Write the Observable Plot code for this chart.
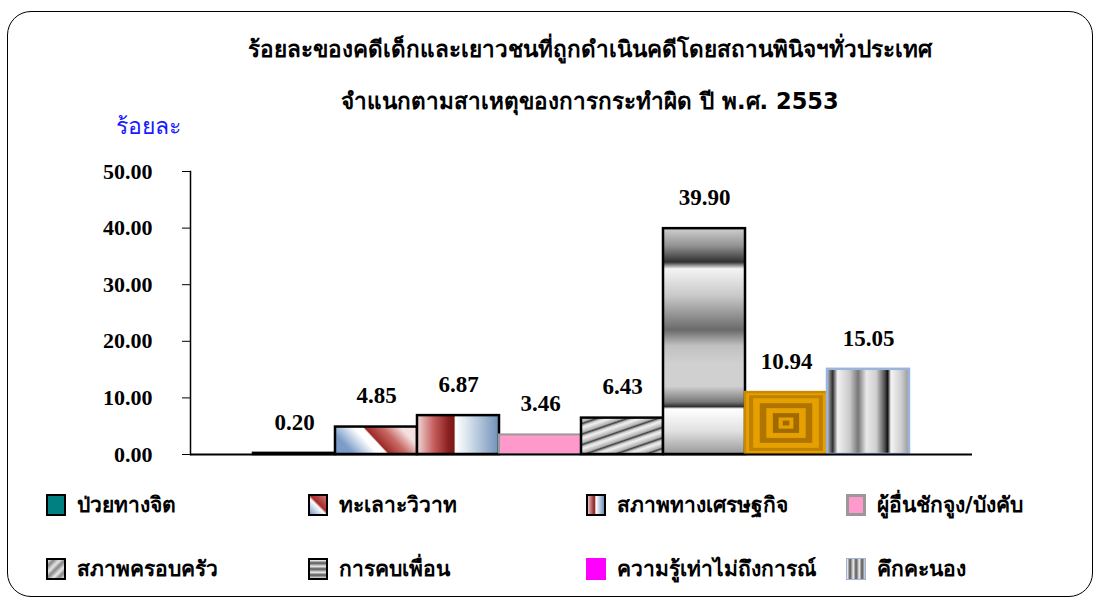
<!DOCTYPE html>
<html>
<head>
<meta charset="utf-8">
<script src="https://cdn.jsdelivr.net/npm/d3@7"></script>
<script src="https://cdn.jsdelivr.net/npm/@observablehq/plot@0.6"></script>
<style>
  html, body { margin: 0; padding: 0; background: #fff; }
  #wrap { position: relative; width: 1101px; height: 599px; overflow: hidden; font-family: "DejaVu Sans", "Noto Sans", sans-serif; }
  #border { position: absolute; left: 7px; top: 11px; width: 1084px; height: 584px; border: 1.5px solid #000; border-radius: 24px; }
  .title { position: absolute; left: 0; width: 1180px; text-align: center; font-weight: bold; font-size: 22.5px; color: #000; white-space: nowrap; }
  #ylab { position: absolute; left: 116px; top: 108px; color: #1a1aff; font-size: 23px; white-space: nowrap; }
  #chart { position: absolute; left: 0; top: 140px; }
  .leg { position: absolute; display: flex; align-items: center; font-size: 21px; font-weight: bold; white-space: nowrap; }
  .sw { width: 20px; height: 22px; box-sizing: border-box; margin-right: 11px; }
</style>
</head>
<body>
<div id="wrap">
  <div id="border"></div>
  <div class="title" id="t1" style="top:31px"></div>
  <div class="title" id="t2" style="top:83px"></div>
  <div id="ylab"></div>
  <div id="chart"></div>
  <div id="legend"></div>
</div>
<script>
// ---- data ----
const title1 = "ร้อยละของคดีเด็กและเยาวชนที่ถูกดำเนินคดีโดยสถานพินิจฯทั่วประเทศ";
const title2 = "จำแนกตามสาเหตุของการกระทำผิด ปี พ.ศ. 2553";
const yLabel = "ร้อยละ";
const categories = ["ป่วยทางจิต", "ทะเลาะวิวาท", "สภาพทางเศรษฐกิจ", "ผู้อื่นชักจูง/บังคับ", "สภาพครอบครัว", "การคบเพื่อน", "ความรู้เท่าไม่ถึงการณ์", "คึกคะนอง"];
const values = [0.20, 4.85, 6.87, 3.46, 6.43, 39.90, 10.94, 15.05];
const yTicks = [0, 10, 20, 30, 40, 50];

// ---- styles ----
const barFills = ["#008080", "url(#g2)", "url(#g3)", "#ff99cc", "url(#g5)", "url(#g6)", "url(#p7)", "url(#g8)"];
const barStrokes = ["#000", "#000", "#000", "#9a9a9a", "#000", "#000", "#c98a00", "#9ab4dc"];
const legendSwatch = [
  "background:#008080;border:2px solid #000",
  "background:linear-gradient(45deg,#7b9cc9 0%,#ffffff 45%,#a52a2a 55%,#d07070 100%);border:2px solid #000",
  "background:linear-gradient(90deg,#e8c0c0,#8b2020 40%,#ffffff 50%,#7090b8);border:2px solid #000",
  "background:#ff99cc;border:3px solid #999",
  "background:repeating-linear-gradient(135deg,#eee 0px,#888 4px,#ddd 8px);border:2px solid #000",
  "background:repeating-linear-gradient(180deg,#fff 0px,#555 3px,#ddd 6px);border:2px solid #000",
  "background:#ff00ff",
  "background:repeating-linear-gradient(90deg,#fff 0px,#555 3px,#ddd 6px);border:1.5px solid #9ab4dc"
];
const legendPos = [[46,491],[308,491],[586,491],[846,491],[46,555],[308,555],[586,555],[846,555]];

document.getElementById("t1").textContent = title1;
document.getElementById("t2").textContent = title2;
document.getElementById("ylab").textContent = yLabel;

const data = categories.map((c, i) => ({category: c, value: values[i], i}));

const plot = Plot.plot({
  width: 1101,
  height: 330,
  marginLeft: 190,
  marginRight: 129,
  marginTop: 31,
  marginBottom: 16,
  style: {fontFamily: "'Liberation Serif', serif", fontSize: "22px", fontWeight: "bold", color: "#000", background: "transparent"},
  x: {domain: categories, paddingInner: 0, paddingOuter: 0.75, axis: null},
  y: {domain: [0, 50], ticks: yTicks, tickFormat: d3.format(".2f"), tickSize: 8, tickPadding: 30, label: null},
  marks: [
    ...data.map(d => Plot.barY([d], {x: "category", y: "value", fill: barFills[d.i], stroke: barStrokes[d.i], strokeWidth: d.i === 3 ? 2 : 2.5})),
    Plot.text(data, {x: "category", y: "value", text: d => d3.format(".2f")(d.value), dy: -31, fontSize: 23, fontWeight: "bold", fill: "#000"}),
    Plot.ruleY([0], {stroke: "#000", strokeWidth: 2}),
    Plot.frame({anchor: "left", stroke: "#000", strokeWidth: 1.5})
  ]
});

const defs = `
<defs>
  <linearGradient id="g2" x1="0.1" y1="0.6" x2="0.9" y2="0.35">
    <stop offset="0" stop-color="#7b9cc9"/><stop offset="0.35" stop-color="#ffffff"/>
    <stop offset="0.47" stop-color="#ffffff"/><stop offset="0.5" stop-color="#9e2a28"/>
    <stop offset="0.75" stop-color="#c86a66"/><stop offset="1" stop-color="#f4e0e0"/>
  </linearGradient>
  <linearGradient id="g3" x1="0" y1="0" x2="1" y2="0">
    <stop offset="0" stop-color="#f0d8d8"/><stop offset="0.2" stop-color="#c86060"/>
    <stop offset="0.38" stop-color="#8b2020"/><stop offset="0.45" stop-color="#7a1818"/>
    <stop offset="0.47" stop-color="#ffffff"/><stop offset="0.6" stop-color="#dde8f0"/>
    <stop offset="1" stop-color="#7090b8"/>
  </linearGradient>
  <linearGradient id="g5" x1="0" y1="0" x2="0.14" y2="0.18" spreadMethod="repeat">
    <stop offset="0" stop-color="#f0f0f0"/><stop offset="0.45" stop-color="#b0b0b0"/>
    <stop offset="0.6" stop-color="#404040"/><stop offset="0.8" stop-color="#c8c8c8"/>
    <stop offset="1" stop-color="#f0f0f0"/>
  </linearGradient>
  <linearGradient id="g6" x1="0" y1="0" x2="0" y2="1">
    <stop offset="0" stop-color="#d0d0d0"/><stop offset="0.08" stop-color="#909090"/>
    <stop offset="0.15" stop-color="#303030"/><stop offset="0.18" stop-color="#f4f4f4"/>
    <stop offset="0.3" stop-color="#c8c8c8"/><stop offset="0.45" stop-color="#6a6a6a"/>
    <stop offset="0.52" stop-color="#c0c0c0"/><stop offset="0.6" stop-color="#d0d0d0"/>
    <stop offset="0.7" stop-color="#d0d0d0"/><stop offset="0.77" stop-color="#777"/>
    <stop offset="0.79" stop-color="#303030"/><stop offset="0.8" stop-color="#ffffff"/>
    <stop offset="0.9" stop-color="#e0e0e0"/><stop offset="1" stop-color="#999"/>
  </linearGradient>
  <pattern id="p7" patternUnits="objectBoundingBox" patternContentUnits="objectBoundingBox" width="1" height="1">
    <rect x="0" y="0" width="1" height="1" fill="#e6a000"/>
    <rect x="0.05" y="0.05" width="0.9" height="0.9" fill="#c08000"/>
    <rect x="0.1" y="0.1" width="0.8" height="0.8" fill="#e6a000"/>
    <rect x="0.18" y="0.18" width="0.64" height="0.64" fill="#b07400"/>
    <rect x="0.26" y="0.26" width="0.48" height="0.48" fill="#e6a000"/>
    <rect x="0.34" y="0.34" width="0.32" height="0.32" fill="#a06a00"/>
    <rect x="0.41" y="0.41" width="0.18" height="0.18" fill="#e6a000"/>
    <rect x="0.46" y="0.46" width="0.08" height="0.08" fill="#a06a00"/>
  </pattern>
  <linearGradient id="g8" x1="0" y1="0" x2="1" y2="0">
    <stop offset="0" stop-color="#bdbdbd"/><stop offset="0.07" stop-color="#303030"/>
    <stop offset="0.13" stop-color="#f2f2f2"/><stop offset="0.28" stop-color="#c8c8c8"/>
    <stop offset="0.38" stop-color="#777"/><stop offset="0.48" stop-color="#e8e8e8"/>
    <stop offset="0.6" stop-color="#d0d0d0"/><stop offset="0.7" stop-color="#555"/>
    <stop offset="0.74" stop-color="#111"/><stop offset="0.78" stop-color="#f5f5f5"/>
    <stop offset="0.9" stop-color="#d0d0d0"/><stop offset="1" stop-color="#999"/>
  </linearGradient>
</defs>`;
plot.insertAdjacentHTML("afterbegin", defs);
document.getElementById("chart").appendChild(plot);

const legend = document.getElementById("legend");
categories.forEach((c, i) => {
  const el = document.createElement("div");
  el.className = "leg";
  el.style.left = legendPos[i][0] + "px";
  el.style.top = (legendPos[i][1] - 3) + "px";
  el.innerHTML = `<div class="sw" style="${legendSwatch[i]}"></div><span>${c}</span>`;
  legend.appendChild(el);
});
</script>
</body>
</html>
